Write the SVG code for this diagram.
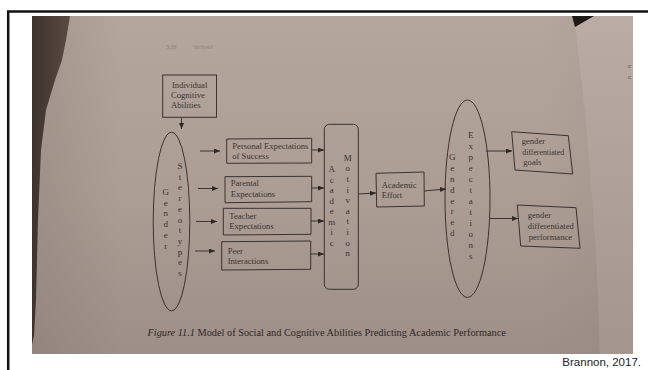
<svg xmlns="http://www.w3.org/2000/svg" width="648" height="370" viewBox="0 0 648 370">
<defs>
<linearGradient id="pageV" x1="0" y1="0" x2="0" y2="1">
<stop offset="0" stop-color="#b4a69d"/>
<stop offset="0.55" stop-color="#ab9d94"/>
<stop offset="1" stop-color="#9d8f87"/>
</linearGradient>
<linearGradient id="pageH" x1="0" y1="0" x2="1" y2="0">
<stop offset="0" stop-color="#7d6f68" stop-opacity="0.3"/>
<stop offset="0.15" stop-color="#7d6f68" stop-opacity="0"/>
<stop offset="0.85" stop-color="#7d6f68" stop-opacity="0"/>
<stop offset="1" stop-color="#7d6f68" stop-opacity="0.15"/>
</linearGradient>
<linearGradient id="rightPage" x1="0" y1="0" x2="0" y2="1">
<stop offset="0" stop-color="#baaca4"/>
<stop offset="1" stop-color="#a4968e"/>
</linearGradient>
<linearGradient id="dark" x1="0" y1="0" x2="1" y2="0">
<stop offset="0" stop-color="#3e332e"/>
<stop offset="1" stop-color="#5a4a41"/>
</linearGradient>
<marker id="ah" markerWidth="6" markerHeight="5" refX="6" refY="2.5" orient="auto" markerUnits="userSpaceOnUse">
<path d="M0,0 L6,2.5 L0,5 Z" fill="#2e2826"/>
</marker>
<style>
.box{fill:none;stroke:#3a3330;stroke-width:1}
.t{font-family:"Liberation Serif","Times New Roman",serif;font-size:8.6px;fill:#3a3330}
.s{font-family:"Liberation Serif","Times New Roman",serif;font-size:7.8px;fill:#3a3330}
.l{font-family:"Liberation Serif","Times New Roman",serif;font-size:9px;fill:#3a3330;text-anchor:middle}
.c{fill:none;stroke:#3a3330;stroke-width:1;marker-end:url(#ah)}
</style>
</defs>
<rect width="648" height="370" fill="#ffffff"/>
<g id="frame">
<line x1="7" y1="11.5" x2="648" y2="11.5" stroke="#111" stroke-width="2.5"/>
<line x1="8.2" y1="11" x2="8.2" y2="370" stroke="#111" stroke-width="2.5"/>
</g>
<g id="photo">
<rect x="32" y="16" width="601" height="338" fill="url(#pageV)"/>
<rect x="32" y="16" width="601" height="338" fill="url(#pageH)"/>
<polygon points="575,27 594,16 633,16 633,354 600,354 596,250 586,120 578,50" fill="url(#rightPage)"/>
<polygon points="572,16 594,16 575,27" fill="#1e1a18"/>
<polygon points="32,16 70,16 66,40 62,60 55,80 46,110 41,150 38,220 36,300 34,335 32,345" fill="url(#dark)"/>
<text x="628" y="68" font-family="Liberation Serif, serif" font-size="7" fill="#4a403b">c</text>
<text x="628" y="79" font-family="Liberation Serif, serif" font-size="7" fill="#4a403b">c</text>
<text x="166" y="49" font-family="Liberation Serif, serif" font-size="7" fill="#8c827c">328</text>
<text x="194" y="49" font-family="Liberation Serif, serif" font-size="7" font-style="italic" fill="#8c827c">School</text>
</g>
<g id="connectors">
<line class="c" x1="181.5" y1="117.5" x2="181.5" y2="129"/>
<line class="c" x1="200" y1="151" x2="220" y2="151"/>
<line class="c" x1="198" y1="188.5" x2="218" y2="188.5"/>
<line class="c" x1="196" y1="221.5" x2="217" y2="221.5"/>
<line class="c" x1="195" y1="251" x2="215" y2="251"/>
<line class="c" x1="311.5" y1="150" x2="324" y2="150"/>
<line class="c" x1="311.5" y1="188" x2="324" y2="188"/>
<line class="c" x1="311" y1="221" x2="324" y2="221"/>
<line class="c" x1="310.5" y1="254" x2="324" y2="254"/>
<line class="c" x1="358" y1="194" x2="376" y2="193"/>
<line class="c" x1="424" y1="191" x2="446" y2="189"/>
<line class="c" x1="486" y1="151" x2="512" y2="151"/>
<line class="c" x1="490" y1="218.5" x2="518" y2="218.5"/>
</g>
<g id="individual-cognitive-abilities">
<rect class="box" x="162.7" y="75" width="53.8" height="42.3"/>
<text class="t" x="172" y="88">Individual</text>
<text class="t" x="171" y="98">Cognitive</text>
<text class="t" x="171" y="108">Abilities</text>
</g>
<g id="gender-stereotypes">
<ellipse class="box" cx="171.5" cy="221.5" rx="18.3" ry="89.3"/>
<text class="l" x="165.7" y="194.7">G</text>
<text class="l" x="165.7" y="205.5">e</text>
<text class="l" x="165.7" y="216.3">n</text>
<text class="l" x="165.7" y="227.1">d</text>
<text class="l" x="165.7" y="237.9">e</text>
<text class="l" x="165.7" y="248.7">r</text>
<text class="l" x="180" y="169">S</text>
<text class="l" x="180" y="179.7">t</text>
<text class="l" x="180" y="190.4">e</text>
<text class="l" x="180" y="201.1">r</text>
<text class="l" x="180" y="211.8">e</text>
<text class="l" x="180" y="222.5">o</text>
<text class="l" x="180" y="233.2">t</text>
<text class="l" x="180" y="243.9">y</text>
<text class="l" x="180" y="254.6">p</text>
<text class="l" x="180" y="265.3">e</text>
<text class="l" x="180" y="276">s</text>
</g>
<g id="personal-expectations">
<polygon class="box" points="226.7,139 311.7,138.3 311.7,163 226.7,163.3"/>
<text class="t" x="232.3" y="149">Personal Expectations</text>
<text class="t" x="232.3" y="158.7">of Success</text>
</g>
<g id="parental-expectations">
<polygon class="box" points="225,176.7 311.7,176.3 311.7,201.7 225,202.7"/>
<text class="t" x="230.7" y="185.5">Parental</text>
<text class="t" x="230.7" y="197">Expectations</text>
</g>
<g id="teacher-expectations">
<polygon class="box" points="223.3,208.3 311,208.3 311,234.3 223.3,235"/>
<text class="t" x="229.3" y="219">Teacher</text>
<text class="t" x="229.3" y="229">Expectations</text>
</g>
<g id="peer-interactions">
<polygon class="box" points="221.7,241.7 310.7,241 310.7,269.3 221.7,270"/>
<text class="t" x="227.7" y="254">Peer</text>
<text class="t" x="227.7" y="264">Interactions</text>
</g>
<g id="academic-motivation">
<rect class="box" x="324.3" y="124.3" width="34" height="165" rx="5" ry="5"/>
<text class="l" x="331.7" y="172">A</text>
<text class="l" x="331.7" y="182.5">c</text>
<text class="l" x="331.7" y="193">a</text>
<text class="l" x="331.7" y="203.5">d</text>
<text class="l" x="331.7" y="214">e</text>
<text class="l" x="331.7" y="224.5">m</text>
<text class="l" x="331.7" y="235">i</text>
<text class="l" x="331.7" y="245.5">c</text>
<text class="l" x="347.7" y="160.7">M</text>
<text class="l" x="347.7" y="171.3">o</text>
<text class="l" x="347.7" y="181.9">t</text>
<text class="l" x="347.7" y="192.5">i</text>
<text class="l" x="347.7" y="203.1">v</text>
<text class="l" x="347.7" y="213.7">a</text>
<text class="l" x="347.7" y="224.3">t</text>
<text class="l" x="347.7" y="234.9">i</text>
<text class="l" x="347.7" y="245.5">o</text>
<text class="l" x="347.7" y="256.1">n</text>
</g>
<g id="academic-effort">
<polygon class="box" points="376,173.3 424,172 424.3,206 376.7,207"/>
<text class="t" x="381.7" y="188">Academic</text>
<text class="t" x="381.7" y="197.5">Effort</text>
</g>
<g id="gendered-expectations">
<ellipse class="box" cx="467.5" cy="198.7" rx="22.5" ry="98.7"/>
<text class="l" x="452.3" y="159.7">G</text>
<text class="l" x="452.3" y="170.6">e</text>
<text class="l" x="452.3" y="181.6">n</text>
<text class="l" x="452.3" y="192.5">d</text>
<text class="l" x="452.3" y="203.5">e</text>
<text class="l" x="452.3" y="214.4">r</text>
<text class="l" x="452.3" y="225.4">e</text>
<text class="l" x="452.3" y="236.3">d</text>
<text class="l" x="470.7" y="138">E</text>
<text class="l" x="470.7" y="149">x</text>
<text class="l" x="470.7" y="160">p</text>
<text class="l" x="470.7" y="171">e</text>
<text class="l" x="470.7" y="182">c</text>
<text class="l" x="470.7" y="193">t</text>
<text class="l" x="470.7" y="204">a</text>
<text class="l" x="470.7" y="215">t</text>
<text class="l" x="470.7" y="226">i</text>
<text class="l" x="470.7" y="237">o</text>
<text class="l" x="470.7" y="248">n</text>
<text class="l" x="470.7" y="259">s</text>
</g>
<g id="gender-differentiated-goals">
<polygon class="box" points="511.7,131.7 568.3,135.7 572.7,174 515,170"/>
<text class="t" x="521.7" y="144">gender</text>
<text class="s" x="522.3" y="155">differentiated</text>
<text class="t" x="523.3" y="165">goals</text>
</g>
<g id="gender-differentiated-performance">
<polygon class="box" points="517.3,205 576,207.7 580,248.3 520.7,246"/>
<text class="t" x="527.7" y="218">gender</text>
<text class="t" x="527.7" y="229">differentiated</text>
<text class="t" x="528.7" y="239.5">performance</text>
</g>
<g id="caption">
<text x="147.5" y="335.5" font-family="Liberation Serif, serif" font-size="10.3" fill="#2e2826"><tspan font-style="italic">Figure 11.1</tspan>  Model of Social and Cognitive Abilities Predicting Academic Performance</text>
<text x="641" y="366" text-anchor="end" font-family="Liberation Sans, Arial, sans-serif" font-size="11.5" fill="#222">Brannon, 2017.</text>
</g>
</svg>
